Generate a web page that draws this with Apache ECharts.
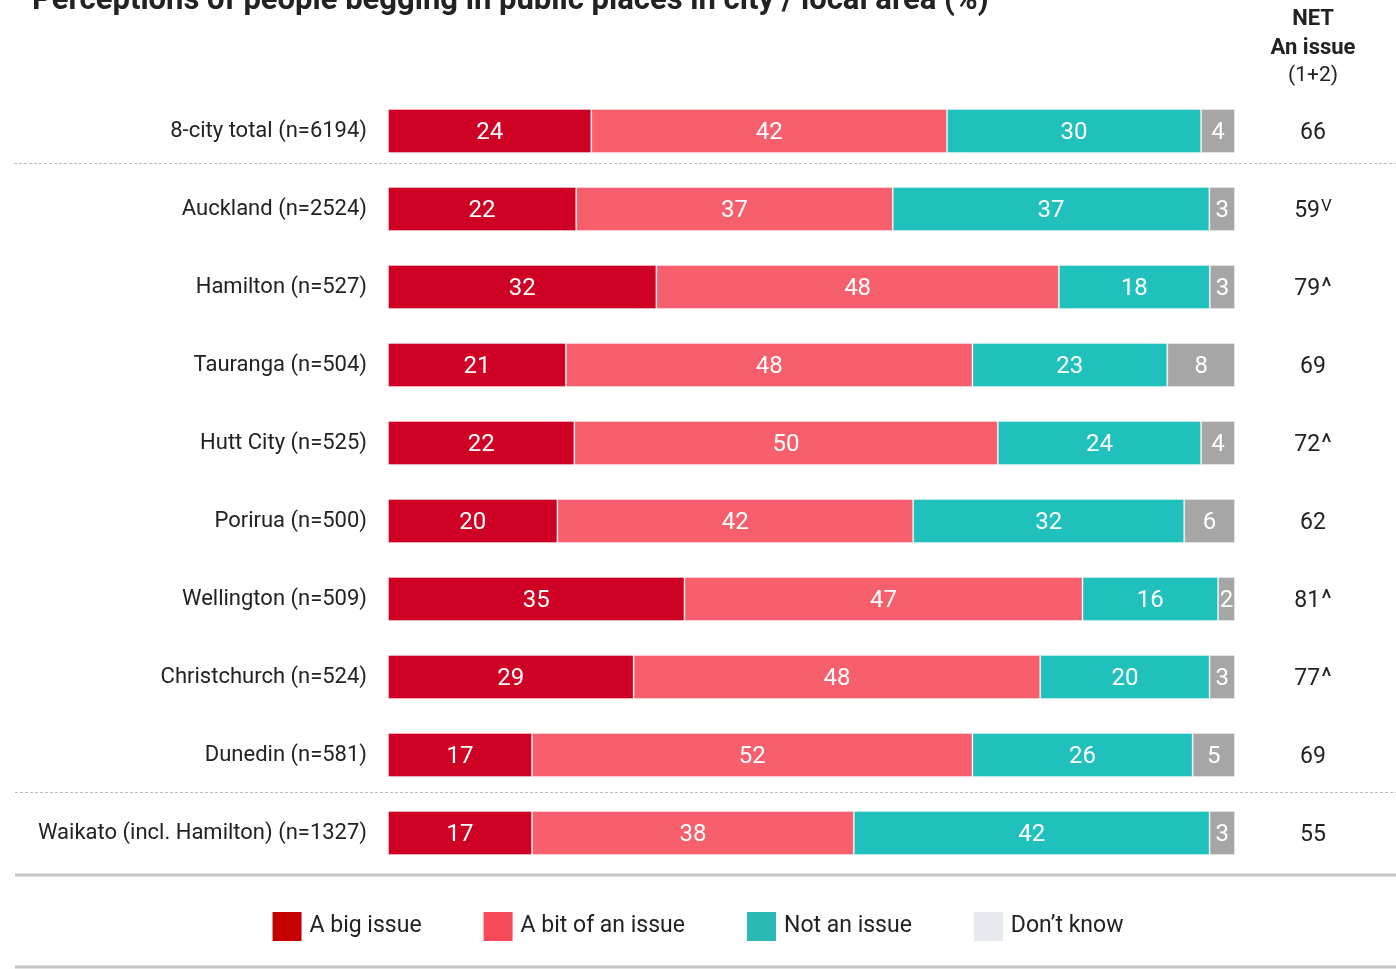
<!DOCTYPE html>
<html>
<head>
<meta charset="utf-8">
<script src="https://cdn.jsdelivr.net/npm/echarts@6/dist/echarts.min.js"></script>
<style>
  html, body { margin: 0; padding: 0; background: #fff; }
  #chart { width: 1396px; height: 969px; }
</style>
</head>
<body>
<div id="chart"></div>
<script>
// categories, top to bottom
var cities = ['8-city total (n=6194)', 'Auckland (n=2524)', 'Hamilton (n=527)', 'Tauranga (n=504)',
  'Hutt City (n=525)', 'Porirua (n=500)', 'Wellington (n=509)', 'Christchurch (n=524)',
  'Dunedin (n=581)', 'Waikato (incl. Hamilton) (n=1327)'];

var bigIssue = [24, 22, 32, 21, 22, 20, 35, 29, 17, 17];
var bitIssue = [42, 37, 48, 48, 50, 42, 47, 48, 52, 38];
var notIssue = [30, 37, 18, 23, 24, 32, 16, 20, 26, 42];
var dontKnow = [4, 3, 3, 8, 4, 6, 2, 3, 5, 3];

// NET an issue (1+2) and significance marks
var netValues = [66, 59, 79, 69, 72, 62, 81, 77, 69, 55];
var netMarks = ['', 'V', '^', '', '^', '', '^', '^', '', ''];

var seriesNames = ['A big issue', 'A bit of an issue', 'Not an issue', 'Don\u2019t know'];
var barColors = ['#CE0024', '#F75F6D', '#20C1BC', '#A6A6A6'];
var legendColors = ['#C40000', '#F54B5B', '#2BB9B3', '#E6E9ED'];

var FONT = "Roboto, sans-serif";

var myChart = echarts.init(document.getElementById('chart'));

var raw = [bigIssue, bitIssue, notIssue, dontKnow];

// bars are drawn as share of the row total so every row fills the width
function rowTotal(i) {
    return bigIssue[i] + bitIssue[i] + notIssue[i] + dontKnow[i];
}

var series = raw.map(function (arr, s) {
    return {
        name: seriesNames[s],
        type: 'bar',
        stack: 'all',
        barWidth: 44,
        itemStyle: { color: barColors[s], borderColor: 'rgba(255,255,255,0.35)', borderWidth: 1 },
        label: {
            show: true,
            position: 'inside',
            offset: [0, 2],
            color: '#fff',
            fontSize: 24,
            fontFamily: FONT,
            formatter: function (p) { return arr[p.dataIndex]; }
        },
        emphasis: { disabled: true },
        data: arr.map(function (v, i) { return v / rowTotal(i) * 100; })
    };
});

var option = {
    animation: false,
    textStyle: { fontFamily: FONT },
    grid: { left: 388, right: 161, top: 92, bottom: 97 },
    legend: {
        left: 'center',
        top: 907,
        itemWidth: 29,
        itemHeight: 29,
        itemGap: 62,
        icon: 'rect',
        textStyle: { fontSize: 23, color: '#222', fontFamily: FONT, padding: [0, 0, 0, 3] },
        data: seriesNames.map(function (n, i) {
            return { name: n, itemStyle: { color: legendColors[i], borderWidth: 0 } };
        })
    },
    xAxis: {
        type: 'value',
        min: 0,
        max: 100,
        show: false
    },
    yAxis: [{
        type: 'category',
        inverse: true,
        data: cities,
        axisLine: { show: false },
        axisTick: { show: false },
        axisLabel: { margin: 21, fontSize: 22, color: '#222', fontFamily: FONT, padding: [4, 0, 0, 0] }
    }, {
        type: 'category',
        inverse: true,
        position: 'right',
        data: netValues.map(function (v, i) { return v + '|' + netMarks[i]; }),
        axisLine: { show: false },
        axisTick: { show: false },
        axisLabel: {
            margin: 78,
            align: 'center',
            padding: [4, 0, 0, 0],
            formatter: function (val) {
                var parts = val.split('|');
                if (parts[1] === 'V') return '{n|' + parts[0] + '}{s|V}';
                if (parts[1] === '^') return '{n|' + parts[0] + '}{c|^}';
                return '{n|' + parts[0] + '}';
            },
            rich: {
                n: { fontSize: 23, color: '#222', fontFamily: FONT },
                s: { fontSize: 17, color: '#222', fontFamily: FONT, verticalAlign: 'top', padding: [0, 0, 8, 1] },
                c: { fontSize: 25, color: '#222', fontFamily: FONT, padding: [0, 0, 0, 1] }
            }
        }
    }],
    graphic: [
        {
            type: 'text', left: 32, top: -14,
            style: { text: 'Perceptions of people begging in public places in city / local area (%)',
                fontSize: 31, fontWeight: 'bold', fill: '#222', fontFamily: FONT }
        },
        { type: 'text', x: 1313, y: 19, style: { text: 'NET', fontSize: 22, fontWeight: 'bold', fill: '#222', align: 'center', verticalAlign: 'middle', fontFamily: FONT } },
        { type: 'text', x: 1313, y: 48, style: { text: 'An issue', fontSize: 22, fontWeight: 'bold', fill: '#222', align: 'center', verticalAlign: 'middle', fontFamily: FONT } },
        { type: 'text', x: 1313, y: 76, style: { text: '(1+2)', fontSize: 21, fill: '#222', align: 'center', verticalAlign: 'middle', fontFamily: FONT } },
        { type: 'line', shape: { x1: 14, y1: 163.5, x2: 1396, y2: 163.5 }, style: { stroke: '#BDBDBD', lineWidth: 1, lineDash: [3, 2] } },
        { type: 'line', shape: { x1: 15, y1: 792.5, x2: 1396, y2: 792.5 }, style: { stroke: '#BDBDBD', lineWidth: 1, lineDash: [3, 2] } },
        { type: 'line', shape: { x1: 15, y1: 875, x2: 1396, y2: 875 }, style: { stroke: '#C4C4C4', lineWidth: 3 } },
        { type: 'line', shape: { x1: 15, y1: 967, x2: 1396, y2: 967 }, style: { stroke: '#C4C4C4', lineWidth: 3 } }
    ],
    series: series
};

myChart.setOption(option);
</script>
</body>
</html>
